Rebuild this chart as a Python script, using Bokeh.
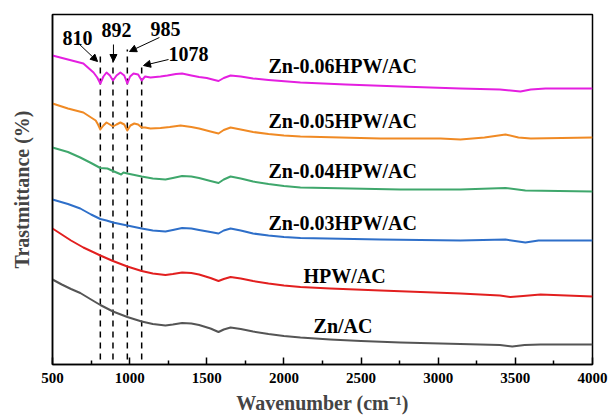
from bokeh.plotting import figure
from bokeh.models import Range1d, FixedTicker, Arrow, NormalHead, Label
from bokeh.embed import file_html
from bokeh.resources import INLINE

# ---------------- data ----------------
mag_wn = [500, 600, 700, 766, 790, 810, 830, 850, 872, 892, 915, 940, 965, 985, 1003,
          1025, 1055, 1078, 1100, 1135, 1200, 1245, 1300, 1340, 1400, 1450, 1500, 1550,
          1576, 1610, 1654, 1720, 1800, 1900, 2107, 2400, 2755, 3144, 3400, 3533, 3600,
          3695, 4000]
mag_t = [309, 305, 301, 292, 287, 281, 288, 292, 289, 284, 289, 292, 289, 281, 288,
         291, 290, 284, 288, 287, 288, 289, 290.5, 291, 289, 287.5, 286.5, 284.5,
         283.5, 286.5, 289, 288, 286, 284.5, 282, 280, 278, 276, 275, 273, 275,
         276, 276]

ora_wn = [500, 600, 700, 780, 795, 810, 830, 850, 872, 892, 915, 940, 965, 985, 1005,
          1030, 1055, 1078, 1100, 1135, 1200, 1260, 1330, 1400, 1450, 1524, 1576, 1610,
          1654, 1720, 1800, 1900, 2000, 2107, 2626, 3015, 3144, 3300, 3436, 3520, 3600,
          4000]
ora_t = [261, 256, 252, 244, 240, 235, 239, 242, 240, 238, 240, 242, 240, 234, 239,
         241, 240, 237, 237, 236, 236.5, 237.5, 239, 237.5, 236, 233, 231, 234.5,
         237, 235, 232.5, 230.5, 229, 228, 226, 226, 225, 227, 230, 227, 226,
         227]

grn_wn = [500, 600, 680, 750, 810, 856, 892, 930, 945, 960, 985, 1078, 1150, 1232,
          1280, 1340, 1400, 1450, 1524, 1576, 1610, 1654, 1720, 1800, 1900, 2000, 2107,
          2755, 3144, 3436, 3565, 4000]
grn_t = [217, 212.5, 207, 201.5, 196.5, 196, 193.5, 191, 190, 192, 191, 188, 186, 185,
         186.5, 188.5, 188, 186.5, 183.5, 181.5, 185, 188, 186, 183, 180.5, 178.5, 177,
         175, 175, 176.5, 174, 173]

blu_wn = [500, 600, 680, 750, 810, 850, 892, 985, 1078, 1150, 1232, 1280, 1340, 1400,
          1450, 1524, 1576, 1610, 1654, 1720, 1800, 1900, 2000, 2107, 2626, 3144, 3436,
          3520, 3565, 3650, 4000]
blu_t = [165, 160.5, 156, 150, 145.5, 144, 142, 139, 136, 134, 133, 134.5, 136.5, 136,
         134.5, 132.5, 131, 134, 136, 134, 131, 129, 127.5, 126.5, 125, 124, 125,
         123, 122, 124, 124]

red_wn = [500, 560, 620, 700, 810, 892, 985, 1078, 1150, 1232, 1280, 1340, 1400, 1450,
          1524, 1576, 1610, 1654, 1720, 1800, 1900, 2000, 2107, 2300, 2626, 3144, 3400,
          3468, 3550, 3663, 4000]
red_t = [136, 130, 124, 117, 109, 103.5, 98, 93.5, 91, 89.5, 90.5, 92, 91.5, 90,
         86.5, 83.5, 85.5, 87.5, 86, 83.5, 81, 79, 77.5, 76, 74, 71, 69,
         67.5, 68.5, 70, 68]

gry_wn = [500, 560, 620, 680, 750, 810, 892, 985, 1078, 1150, 1232, 1280, 1340, 1400,
          1450, 1524, 1576, 1610, 1654, 1720, 1800, 1900, 2000, 2107, 2300, 2500, 2755,
          3144, 3400, 3480, 3560, 3663, 4000]
gry_t = [85, 80, 75.5, 71.5, 65, 59.5, 53, 47.5, 43, 40.5, 39, 40, 41.5, 41,
         39.5, 36, 32.5, 35, 37, 35.5, 33, 30.5, 28.5, 27, 25, 23.5, 22,
         20.5, 19.5, 18, 19.5, 20, 20]

series_names = ["Zn-0.06HPW/AC", "Zn-0.05HPW/AC", "Zn-0.04HPW/AC",
                "Zn-0.03HPW/AC", "HPW/AC", "Zn/AC"]
peaks = [810, 892, 985, 1078]
peak_labels = ["810", "892", "985", "1078"]
x_ticks = [500, 1000, 1500, 2000, 2500, 3000, 3500, 4000]
x_minor = [750, 1250, 1750, 2250, 2750, 3250, 3750]

colors = ["#E41FE0", "#F08A24", "#3FA76C", "#2E6FC9", "#E21F1F", "#555555"]
FONT = "Liberation Serif"

p = figure(width=608, height=419, output_backend="svg", toolbar_location=None,
           x_range=Range1d(500, 4000), y_range=Range1d(0, 350),
           min_border_left=52, min_border_right=16, min_border_top=14,
           min_border_bottom=55)
p.xgrid.visible = False
p.ygrid.visible = False
p.outline_line_color = "black"
p.outline_line_width = 1.5
p.background_fill_color = "white"
p.border_fill_color = "white"

# x axis
xa = p.xaxis[0]
xa.ticker = FixedTicker(ticks=x_ticks, minor_ticks=x_minor)
xa.major_tick_in = 7
xa.major_tick_out = 0
xa.minor_tick_in = 4
xa.minor_tick_out = 0
xa.axis_line_width = 1.5
xa.major_tick_line_width = 1.5
xa.minor_tick_line_width = 1.5
xa.major_label_text_font = FONT
xa.major_label_text_font_style = "bold"
xa.major_label_text_font_size = "15px"
xa.major_label_text_color = "black"
xa.major_label_standoff = 8
xa.axis_label = "Wavenumber (cm\u207b\u00b9)"
xa.axis_label_text_font = FONT
xa.axis_label_text_font_style = "bold"
xa.axis_label_text_font_size = "20px"
xa.axis_label_standoff = 6

# y axis
ya = p.yaxis[0]
ya.ticker = FixedTicker(ticks=[])
ya.major_tick_in = 0
ya.major_tick_out = 0
ya.minor_tick_in = 0
ya.minor_tick_out = 0
ya.axis_line_width = 1.5
ya.axis_label = "Trastmittance (%)"
ya.axis_label_text_font = FONT
ya.axis_label_text_font_style = "bold"
ya.axis_label_text_font_size = "20px"
ya.axis_label_standoff = 20

# dashed markers
p.segment(x0=peaks, y0=[5] * 4, x1=peaks, y1=[312, 312, 315, 300],
          line_color="black", line_width=1.5, line_dash="6 5")

# curves
all_wn = [mag_wn, ora_wn, grn_wn, blu_wn, red_wn, gry_wn]
all_t = [mag_t, ora_t, grn_t, blu_t, red_t, gry_t]
for wn, t, c in zip(all_wn, all_t, colors):
    p.line(wn, t, line_color=c, line_width=2, line_join="round")

# series labels
label_pos = [(1900, 299), (1900, 244), (1900, 194), (1900, 142), (2127, 89), (2192, 39)]
for name, (lx, ly) in zip(series_names, label_pos):
    p.add_layout(Label(x=lx, y=ly, text=name, text_font=FONT, text_font_style="bold",
                       text_font_size="20px", text_baseline="middle", text_align="left",
                       text_color="black"))

# peak annotations
peak_text_pos = [(662, 327), (915, 335), (1232, 336), (1381, 311)]
for txt, (lx, ly) in zip(peak_labels, peak_text_pos):
    p.add_layout(Label(x=lx, y=ly, text=txt, text_font=FONT, text_font_style="bold",
                       text_font_size="20px", text_baseline="middle", text_align="center",
                       text_color="black"))

arrows = [((669, 321), (792, 303)), ((895, 320), (895, 303)),
          ((1193, 327), (999, 313)), ((1252, 305), (1090, 299))]
for (xs, ys), (xe, ye) in arrows:
    p.add_layout(Arrow(end=NormalHead(size=7, fill_color="black", line_color="black"),
                       x_start=xs, y_start=ys, x_end=xe, y_end=ye,
                       line_color="black", line_width=1))

open("out.html", "w").write(file_html(p, INLINE))
